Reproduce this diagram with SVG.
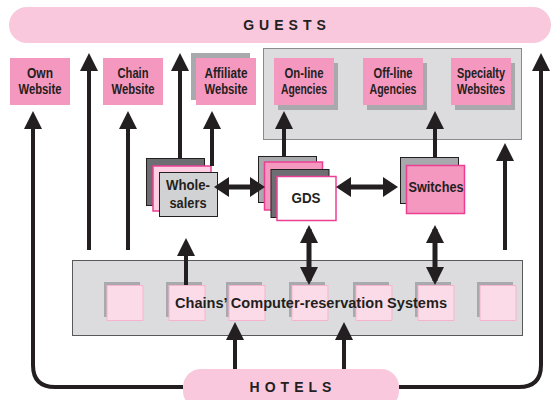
<svg xmlns="http://www.w3.org/2000/svg" width="551" height="400" viewBox="0 0 551 400">
<defs>
<marker id="ah" viewBox="0 -9 18 18" markerWidth="18" markerHeight="18" markerUnits="userSpaceOnUse" refX="14" refY="0" orient="auto-start-reverse"><path d="M0,-9 L18,0 L0,9 z" fill="#231f20"/></marker>
<marker id="ahh" viewBox="0 -10 15 20" markerWidth="15" markerHeight="20" markerUnits="userSpaceOnUse" refX="11" refY="0" orient="auto-start-reverse"><path d="M0,-10 L15,0 L0,10 z" fill="#231f20"/></marker>
<style>
.t{font-family:"Liberation Sans",Arial,sans-serif;font-weight:bold;font-size:14px;fill:#231f20;text-anchor:middle}
.big{font-family:"Liberation Sans",Arial,sans-serif;font-weight:bold;font-size:14px;fill:#231f20;text-anchor:middle;letter-spacing:5px}
.pill{fill:#f9c8dc}
.pk{fill:#f598bf}
.sh{fill:#a7a9ac}
.dk{fill:#6d6e71;stroke:#231f20;stroke-width:1}
.lg{fill:#a7a9ac;stroke:#231f20;stroke-width:1}
.sq{fill:#fcdbe8;stroke:#f5b3cf;stroke-width:1}
.mg{stroke:#ec3f94;stroke-width:1.5}
.c{stroke:#231f20;stroke-width:4;fill:none}
.c5{stroke:#231f20;stroke-width:5;fill:none}
</style>
</defs>
<rect id="guests" x="9" y="7" width="542" height="36" rx="18" class="pill"/>
<text class="big" x="287" y="30">GUESTS</text>
<g id="own-website"><rect x="10" y="58" width="60" height="47" class="pk"/><text class="t" x="40" y="78" textLength="26" lengthAdjust="spacingAndGlyphs">Own</text><text class="t" x="40" y="94" textLength="43" lengthAdjust="spacingAndGlyphs">Website</text></g>
<g id="chain-website"><rect x="103" y="58" width="60" height="47" class="pk"/><text class="t" x="133" y="78" textLength="31" lengthAdjust="spacingAndGlyphs">Chain</text><text class="t" x="133" y="94" textLength="43" lengthAdjust="spacingAndGlyphs">Website</text></g>
<g id="affiliate-website"><rect x="191" y="53" width="59" height="47" class="sh"/><rect x="196" y="58" width="60" height="47" class="pk"/><text class="t" x="226" y="78" textLength="43" lengthAdjust="spacingAndGlyphs">Affiliate</text><text class="t" x="226" y="94" textLength="43" lengthAdjust="spacingAndGlyphs">Website</text></g>
<g id="agencies-group"><rect x="263.5" y="48.5" width="258" height="91" fill="#dcdcde" stroke="#8a8a8d" stroke-width="1"/></g>
<g id="online-agencies"><rect x="278" y="63" width="60" height="47" class="sh"/><rect x="274" y="58" width="60" height="47" class="pk"/><text class="t" x="304" y="78" textLength="39" lengthAdjust="spacingAndGlyphs">On-line</text><text class="t" x="304" y="94" textLength="46" lengthAdjust="spacingAndGlyphs">Agencies</text></g>
<g id="offline-agencies"><rect x="367" y="63" width="60" height="47" class="sh"/><rect x="363" y="58" width="60" height="47" class="pk"/><text class="t" x="393" y="78" textLength="39" lengthAdjust="spacingAndGlyphs">Off-line</text><text class="t" x="393" y="94" textLength="47" lengthAdjust="spacingAndGlyphs">Agencies</text></g>
<g id="specialty-websites"><rect x="455" y="63" width="60" height="47" class="sh"/><rect x="451" y="58" width="60" height="47" class="pk"/><text class="t" x="481" y="78" textLength="48" lengthAdjust="spacingAndGlyphs">Specialty</text><text class="t" x="481" y="94" textLength="48" lengthAdjust="spacingAndGlyphs">Websites</text></g>
<g id="wholesalers"><rect x="146.5" y="158.5" width="58" height="47" class="dk"/><rect x="153" y="166" width="58" height="45" fill="#fcd0e2" class="mg"/><rect x="159.5" y="172.5" width="58" height="44" fill="#d1d2d4" stroke="#231f20" stroke-width="1"/><text class="t" x="188" y="190" textLength="44" lengthAdjust="spacingAndGlyphs">Whole-</text><text class="t" x="188" y="208" textLength="37" lengthAdjust="spacingAndGlyphs">salers</text></g>
<g id="gds"><rect x="258.5" y="156.5" width="58" height="46" class="lg"/><rect x="264.5" y="162" width="58" height="48" class="pk mg"/><rect x="271" y="169.5" width="58" height="48" class="dk"/><rect x="277" y="176.5" width="59" height="44" fill="#ffffff" class="mg"/><text class="t" x="306" y="203" textLength="29" lengthAdjust="spacingAndGlyphs">GDS</text></g>
<g id="switches"><rect x="400.5" y="157.5" width="58" height="46" class="lg"/><rect x="406.5" y="165.5" width="58" height="48" class="pk mg"/><text class="t" x="436" y="192" textLength="55" lengthAdjust="spacingAndGlyphs">Switches</text></g>
<g id="crs"><rect x="72.5" y="260.5" width="450" height="75" fill="#dcdcde" stroke="#58595b" stroke-width="1"/>
<rect x="104" y="282" width="36" height="35" class="sh"/><rect x="107" y="285.5" width="36" height="35" class="sq"/>
<rect x="166" y="282" width="36" height="35" class="sh"/><rect x="169" y="285.5" width="36" height="35" class="sq"/>
<rect x="226" y="282" width="36" height="35" class="sh"/><rect x="229" y="285.5" width="36" height="35" class="sq"/>
<rect x="289" y="282" width="36" height="35" class="sh"/><rect x="292" y="285.5" width="36" height="35" class="sq"/>
<rect x="353" y="282" width="36" height="35" class="sh"/><rect x="356" y="285.5" width="36" height="35" class="sq"/>
<rect x="415" y="282" width="36" height="35" class="sh"/><rect x="418" y="285.5" width="36" height="35" class="sq"/>
<rect x="477" y="282" width="36" height="35" class="sh"/><rect x="480" y="285.5" width="36" height="35" class="sq"/>
<text class="t" x="311" y="308" font-size="15" textLength="272" lengthAdjust="spacingAndGlyphs">Chains’ Computer-reservation Systems</text></g>
<g id="connectors">
<path class="c" d="M183,387 H55 Q33,387 33,365 V115" marker-end="url(#ah)"/>
<path class="c" d="M399,387 H519 Q541,387 541,365 V57" marker-end="url(#ah)"/>
<line class="c" x1="89" y1="250" x2="89" y2="57" marker-end="url(#ah)"/>
<line class="c" x1="128" y1="250" x2="128" y2="115" marker-end="url(#ah)"/>
<line class="c" x1="180" y1="158" x2="180" y2="57" marker-end="url(#ah)"/>
<line class="c" x1="212" y1="166" x2="212" y2="115" marker-end="url(#ah)"/>
<line class="c" x1="284" y1="156" x2="284" y2="115" marker-end="url(#ah)"/>
<line class="c" x1="435" y1="158" x2="435" y2="115" marker-end="url(#ah)"/>
<line class="c" x1="505" y1="250" x2="505" y2="147" marker-end="url(#ah)"/>
<line class="c" x1="186" y1="285" x2="186" y2="242" marker-end="url(#ah)"/>
<line class="c5" x1="309" y1="229" x2="309" y2="281" marker-start="url(#ah)" marker-end="url(#ah)"/>
<line class="c5" x1="435" y1="229" x2="435" y2="281" marker-start="url(#ah)" marker-end="url(#ah)"/>
<line class="c5" x1="218" y1="187" x2="261" y2="187" marker-start="url(#ahh)" marker-end="url(#ahh)"/>
<line class="c5" x1="340" y1="187" x2="394" y2="187" marker-start="url(#ahh)" marker-end="url(#ahh)"/>
<line class="c" x1="235" y1="370" x2="235" y2="326" marker-end="url(#ah)"/>
<line class="c" x1="344" y1="370" x2="344" y2="326" marker-end="url(#ah)"/>
</g>
<g id="hotels"><rect x="183" y="369" width="216" height="40" rx="18" class="pill"/><text class="big" x="293" y="392">HOTELS</text></g>
</svg>
